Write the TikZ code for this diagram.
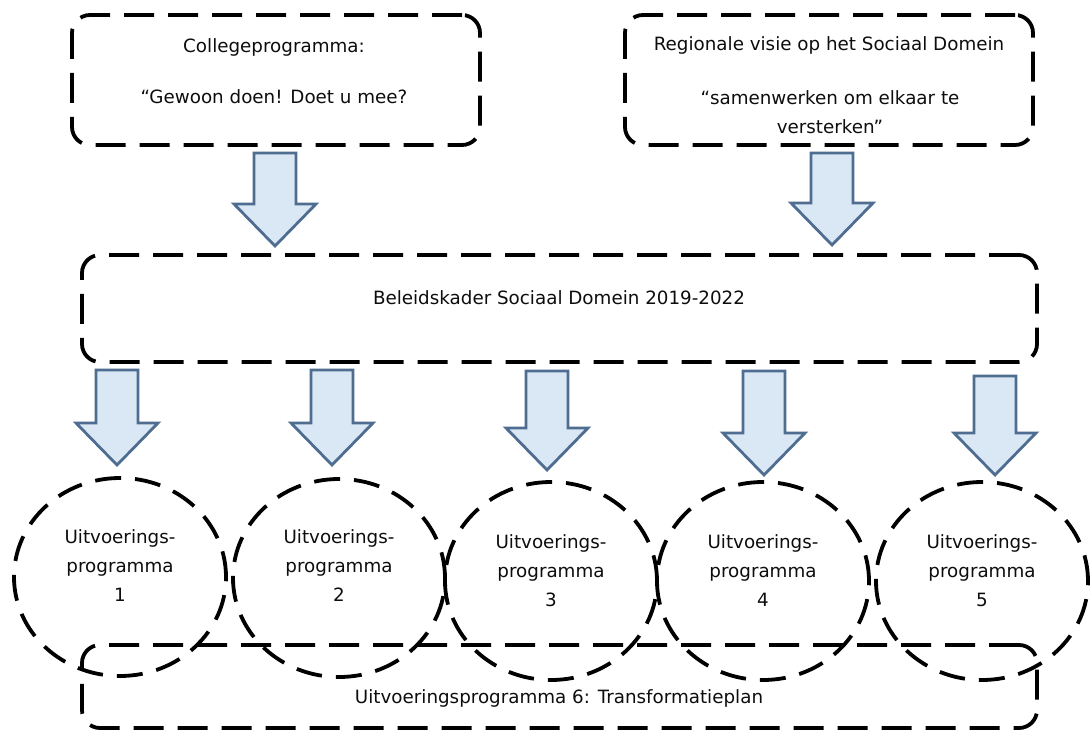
\documentclass[tikz,border=0pt]{standalone}
\usepackage{fontspec}
\setmainfont{DejaVu Sans}
\usepackage{tikz}
\usetikzlibrary{shapes.geometric}
\definecolor{pijlvul}{RGB}{218,232,245}
\definecolor{pijlrand}{RGB}{79,108,145}

\begin{document}
\begin{tikzpicture}[x = 1pt, y = -1pt,
            kader/.style = {draw, line width = 3.8pt, dash pattern = on 30pt off 14pt,
            rounded corners = 18pt, inner sep = 0pt},
            ovaal/.style = {ellipse, draw, line width = 3.8pt, dash pattern = on 26pt off 14pt,
            inner sep = 0pt, minimum width = 212pt, minimum height = 198pt},
            pijl/.style = {draw = pijlrand, fill = pijlvul, line width = 2.8pt},
            tekst/.style = {align = center, text = black!95,
            font = \fontsize{18.3}{29}\selectfont}]
            \useasboundingbox (0,0) rectangle (1090,731);
            \node[kader, minimum width = 408pt, minimum height = 130pt] (college) at (276,80) {};
            \node[kader, minimum width = 408pt, minimum height = 130pt] (regio) at (829,80) {};
            \node[kader, minimum width = 955pt, minimum height = 107pt] (beleid) at (559.5,308.5) {};
            \node[kader, minimum width = 955pt, minimum height = 83pt] (transfo) at (559.5,686.5) {};
            \node[tekst] (college1) at (274,47) {Collegeprogramma:};
            \node[tekst] (college2) at (274,97) {“Gewoon doen! Doet u mee?};
            \node[tekst] (regio1) at (829,45) {Regionale visie op het Sociaal Domein};
            \node[tekst] (regio2) at (830,112) {“samenwerken om elkaar te\\versterken”};
            \node[tekst] (beleidtxt) at (559,298) {Beleidskader Sociaal Domein 2019-2022};
            \node[tekst] (transfotxt) at (559,698) {Uitvoeringsprogramma 6: Transformatieplan};
            \foreach \i/\cx/\cy/\ty in {1/120/577/566, 2/339/578/566, 3/551/581/571,
            4/763/581/571, 5/982/581/571}
            {
                \node[ovaal] (uitv\i) at (\cx,\cy) {};
                \node[tekst] (uitvtxt\i) at (\cx,\ty) {Uitvoerings-\\programma\\\i};
            }
            \foreach \xm/\yt/\yp in {275/153/246, 832/153/245, 117/370/465, 332/370/465,
            547/371/470, 764/371/475, 995/376/475}
                \draw[pijl] (\xm-21,\yt) -- (\xm+21,\yt) -- (\xm+21,\yp-42) -- (\xm+41,\yp-42)
                -- (\xm,\yp) -- (\xm-41,\yp-42) -- (\xm-21,\yp-42) -- cycle;
        \end{tikzpicture}
\end{document}
